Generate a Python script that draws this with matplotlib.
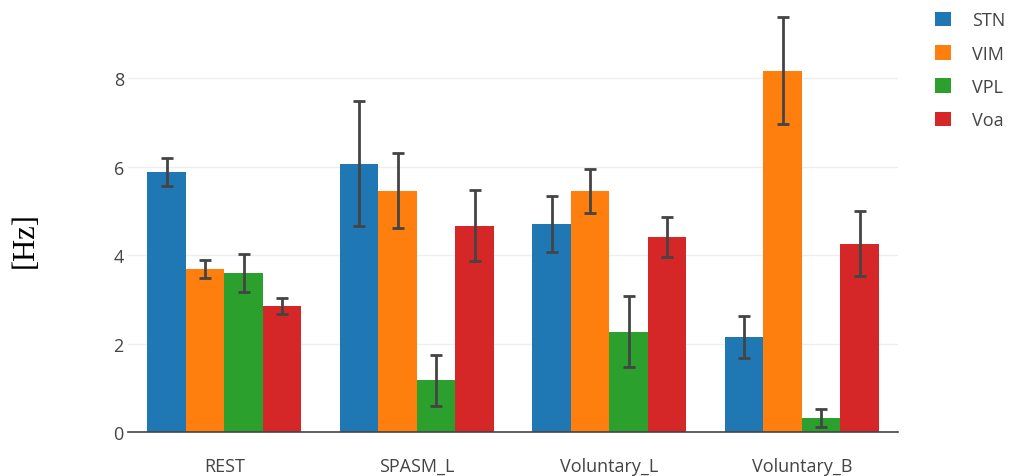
import numpy as np
import matplotlib
matplotlib.use("Agg")
import matplotlib.pyplot as plt

# mean firing frequency per nucleus and condition, with error
conditions = ["REST", "SPASM_L", "Voluntary_L", "Voluntary_B"]
nuclei = ["STN", "VIM", "VPL", "Voa"]
colors = ["#1f77b4", "#ff7f0e", "#2ca02c", "#d62728"]

stn = [5.88, 6.06, 4.70, 2.15]
vim = [3.68, 5.45, 5.45, 8.17]
vpl = [3.59, 1.17, 2.27, 0.31]
voa = [2.85, 4.66, 4.40, 4.26]

stn_err = [0.31, 1.41, 0.63, 0.47]
vim_err = [0.20, 0.85, 0.49, 1.21]
vpl_err = [0.43, 0.58, 0.80, 0.20]
voa_err = [0.18, 0.80, 0.45, 0.73]

means = [stn, vim, vpl, voa]
errs = [stn_err, vim_err, vpl_err, voa_err]

plt.rcParams['font.family'] = ['Open Sans', 'DejaVu Sans']

fig = plt.figure(figsize=(10.11, 4.77), dpi=100)
ax = fig.add_axes([128 / 1011, 44 / 477, 770 / 1011, 423 / 477])

x = np.arange(len(conditions))
width = 0.2
for i, (name, vals, err, c) in enumerate(zip(nuclei, means, errs, colors)):
    pos = x + (i - 1.5) * width
    ax.bar(pos, vals, width=width, color=c, label=name, zorder=2)
    ax.errorbar(pos, vals, yerr=err, fmt='none', ecolor='#444444',
                elinewidth=2, capsize=4, capthick=2, zorder=3)

ax.set_xlim(-0.5, 3.5)
ax.set_ylim(0, 9.56)
ax.set_yticks([0, 2, 4, 6, 8])
ax.set_xticks(x)
ax.set_xticklabels(conditions)
ax.tick_params(axis='both', length=0, labelsize=13, colors='#444444')
ax.tick_params(axis='x', pad=18)
ax.tick_params(axis='y', pad=3)
ax.grid(axis='y', color='#eeeeee', lw=1, zorder=0)
for s in ['top', 'right', 'left']:
    ax.spines[s].set_visible(False)
ax.spines['bottom'].set_color('#444444')
ax.spines['bottom'].set_linewidth(1.2)
ax.spines['bottom'].set_zorder(4)

fig.text(25 / 1011, 1 - 240 / 477, "[Hz]", rotation=90, ha='center',
         va='center', fontsize=22, family='Liberation Serif')

leg = fig.legend(loc='upper left', bbox_to_anchor=(919 / 1011, 1 + 4 / 477),
                 frameon=False, fontsize=13, handlelength=0.85,
                 handleheight=0.85, labelspacing=0.85, handletextpad=1.2)
for t in leg.get_texts():
    t.set_color('#444444')

fig.savefig("out.png", dpi=100)
